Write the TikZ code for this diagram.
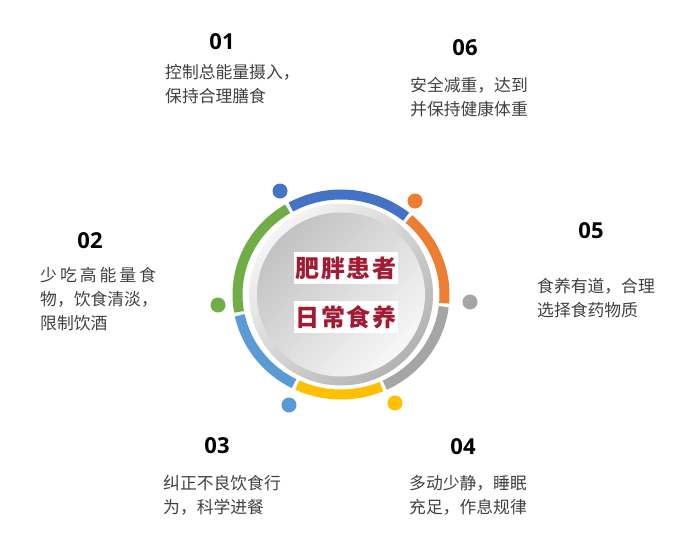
\documentclass[tikz,border=0pt]{standalone}
\usepackage{fontspec}
\setmainfont{Open Sans}
\newfontfamily\cjk{Noto Sans CJK SC}
\newfontfamily\cjkwide[LetterSpace=18]{Noto Sans CJK SC}
\newfontfamily\cjktitle[LetterSpace=8]{Noto Sans CJK SC}
\definecolor{ringblue}{HTML}{4472C4}
\definecolor{ringorange}{HTML}{ED7D31}
\definecolor{ringgray}{HTML}{A5A5A5}
\definecolor{ringyellow}{HTML}{FFC000}
\definecolor{ringsky}{HTML}{5B9BD5}
\definecolor{ringgreen}{HTML}{70AD47}
\definecolor{titlered}{HTML}{A31A33}
\begin{document}
\begin{tikzpicture}[x=1pt,y=-1pt,
  ringarc/.style = {line width=10pt},
  dot/.style = {circle, minimum size=15pt, inner sep=0pt},
  numlabel/.style = {font=\fontsize{22}{22}\selectfont\bfseries, text=black, inner sep=0pt},
  desc/.style = {font=\fontsize{16.8}{24}\cjk, text=black!75, align=left, anchor=north west, inner sep=0pt},
  titlebox/.style = {fill=white, text=titlered, minimum width=104pt, minimum height=32pt,
    inner sep=0pt, font=\fontsize{24}{24}\cjktitle\bfseries}]
  \useasboundingbox (0,0) rectangle (687,551);
  \coordinate (center) at (341,294.5);
  \shade[top color=white!96!black, bottom color=black!30, shading angle=45]
    (center) ellipse [x radius=92pt, y radius=91pt];
  \shade[top color=black!24, bottom color=black!3, shading angle=45]
    (center) ellipse [x radius=84pt, y radius=82pt];
  \draw[ringarc, ringblue] (center) ++(119:103.5pt and 100pt)
    arc [start angle=119, end angle=51, x radius=103.5pt, y radius=100pt];
  \draw[ringarc, ringorange] (center) ++(49:103.5pt and 100pt)
    arc [start angle=49, end angle=-5, x radius=103.5pt, y radius=100pt];
  \draw[ringarc, ringgray] (center) ++(-7:103.5pt and 100pt)
    arc [start angle=-7, end angle=-65, x radius=103.5pt, y radius=100pt];
  \draw[ringarc, ringyellow] (center) ++(-67:103.5pt and 100pt)
    arc [start angle=-67, end angle=-115, x radius=103.5pt, y radius=100pt];
  \draw[ringarc, ringsky] (center) ++(-117:103.5pt and 100pt)
    arc [start angle=-117, end angle=-168, x radius=103.5pt, y radius=100pt];
  \draw[ringarc, ringgreen] (center) ++(-170:103.5pt and 100pt)
    arc [start angle=-170, end angle=-239, x radius=103.5pt, y radius=100pt];
  \node[dot, fill=ringblue] (dot01) at (280,191) {};
  \node[dot, fill=ringorange] (dot06) at (415,201) {};
  \node[dot, fill=ringgray] (dot05) at (470,302) {};
  \node[dot, fill=ringyellow] (dot04) at (395,403) {};
  \node[dot, fill=ringsky] (dot03) at (289,405) {};
  \node[dot, fill=ringgreen] (dot02) at (218,305) {};
  \node[titlebox] (title1) at (346,268) {肥胖患者};
  \node[titlebox] (title2) at (346,317) {日常食养};
  \node[numlabel] (num01) at (222,42) {01};
  \node[desc] (text01) at (165,64) {控制总能量摄入，\\保持合理膳食};
  \node[numlabel] (num06) at (465,48) {06};
  \node[desc] (text06) at (410,77) {安全减重，达到\\并保持健康体重};
  \node[numlabel] (num02) at (90,241) {02};
  \node[desc] (text02) at (40,267) {{\cjkwide 少吃高能量食}\\物，饮食清淡，\\限制饮酒};
  \node[numlabel] (num05) at (591,231) {05};
  \node[desc] (text05) at (537,278) {食养有道，合理\\选择食药物质};
  \node[numlabel] (num03) at (217,446) {03};
  \node[desc] (text03) at (163,475) {纠正不良饮食行\\为，科学进餐};
  \node[numlabel] (num04) at (463,447) {04};
  \node[desc] (text04) at (409,475) {多动少静，睡眠\\充足，作息规律};
\end{tikzpicture}
\end{document}
